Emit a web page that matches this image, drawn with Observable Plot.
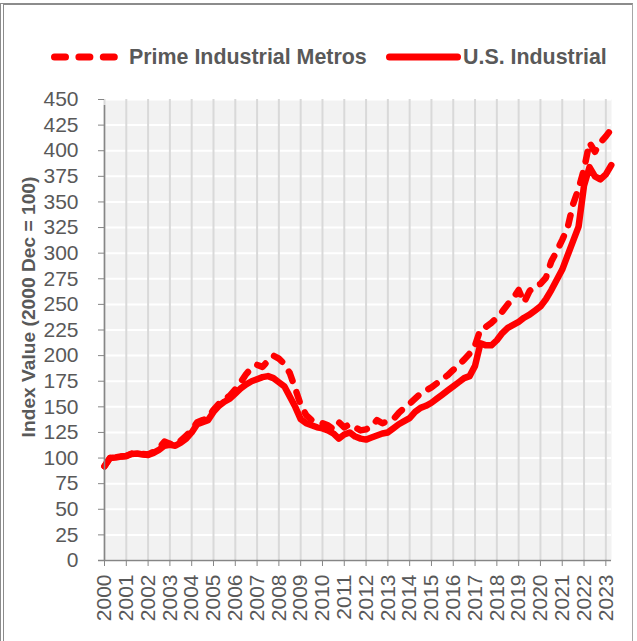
<!DOCTYPE html>
<html>
<head>
<meta charset="utf-8">
<script src="https://cdn.jsdelivr.net/npm/d3@7"></script>
<script src="https://cdn.jsdelivr.net/npm/@observablehq/plot@0.6"></script>
<style>
  body { margin: 0; background: #fff; font-family: "Liberation Sans", Arial, sans-serif; }
  #wrap { position: relative; width: 637px; height: 641px; overflow: hidden; background: #fff; }
  #frame { position: absolute; left: 0; top: 3px; width: 628px; height: 660px;
           border-top: 2px solid #8c8c8c; border-left: 4px double #8c8c8c; border-right: 1px solid #a6a6a6; pointer-events: none; }
  #legend { position: absolute; top: 0; left: 0; width: 637px; height: 90px; }
  .lab { position: absolute; top: 45px; font-weight: bold; font-size: 21.4px; color: #595959; line-height: 24px; white-space: nowrap; }
  .sw { position: absolute; top: 50px; }
  #chart { position: absolute; left: 0; top: 0; }
</style>
</head>
<body>
<div id="wrap">
  <div id="chart"></div>
  <div id="legend"></div>
  <div id="frame"></div>
</div>
<script>
// Series names
const seriesNames = ["Prime Industrial Metros", "U.S. Industrial"];
const yTitle = "Index Value (2000 Dec = 100)";

// Year tick labels
const yearTicks = [2000,2001,2002,2003,2004,2005,2006,2007,2008,2009,2010,2011,2012,2013,2014,2015,2016,2017,2018,2019,2020,2021,2022,2023];

// Y tick values
const valueTicks = [0,25,50,75,100,125,150,175,200,225,250,275,300,325,350,375,400,425,450];

// Quarterly index values, 2000 Q1 .. 2023 Q2
const primeIndustrial = [
  92, 100, 100.5, 101.5,
  102, 104.5, 105, 104,
  103.5, 106, 110, 116,
  114, 113, 117, 122,
  127, 135, 137, 139,
  147, 153, 157, 161,
  167, 174, 182, 188,
  191, 189, 195, 200,
  197, 192, 183, 168,
  152, 142, 137, 135,
  134, 132, 128, 135,
  130, 133, 130, 127,
  128, 131, 137, 134,
  136, 138, 144, 149,
  153, 158, 163, 166,
  169, 173, 177, 181,
  186, 191, 196, 202,
  210, 226, 228, 232,
  237, 243, 250, 256,
  264, 252, 263, 268,
  270, 276, 292, 302,
  313, 325, 348, 363,
  382, 408, 399, 408,
  414, 421
];

const usIndustrial = [
  92, 100, 100.5, 101.5,
  102, 104, 104.5, 103.5,
  103, 105, 108, 112,
  113, 112, 115, 119,
  125, 133, 135, 137,
  145, 151, 155, 158,
  163, 168, 172, 175,
  177, 179, 180, 178,
  174, 170, 160, 150,
  138, 134, 132, 130,
  129, 127, 124, 119,
  123, 125, 121, 119,
  118, 120, 122, 124,
  125, 129, 133, 136,
  139, 145, 149, 151,
  154, 158, 162, 166,
  170, 174, 178, 180,
  190, 212, 210, 210,
  215, 222, 227, 230,
  233, 237, 240, 244,
  248, 255, 264, 274,
  284, 298, 312, 326,
  366, 384, 375, 372,
  377, 386
];

// Quarter positions (decimal years) as the category axis
const quarterPos = usIndustrial.map((_, i) => 2000 + i / 4);

const data = quarterPos.map((x, i) => ({ x, prime: primeIndustrial[i], us: usIndustrial[i] }));

const axisGray = "#868686";
const textGray = "#595959";
const red = "#ff0000";

const chart = Plot.plot({
  width: 637,
  height: 641,
  marginTop: 99,
  marginBottom: 81,
  marginLeft: 104,
  marginRight: 26,
  style: { fontFamily: "'Liberation Sans', Arial, sans-serif", fontSize: "21px", color: textGray, background: "transparent" },
  x: { domain: [2000, 2023.26] },
  y: { domain: [0, 450] },
  marks: [
    Plot.frame({ fill: "#f2f2f2", stroke: null }),
    Plot.gridY(valueTicks, { stroke: "#ffffff", strokeOpacity: 1, strokeWidth: 2 }),
    Plot.gridX(yearTicks, { stroke: "#d9d9d9", strokeOpacity: 1, strokeWidth: 2 }),
    Plot.lineY(data, { x: "x", y: "prime", stroke: red, strokeWidth: 6.5, strokeDasharray: "10 12", strokeLinecap: "round", strokeLinejoin: "round" }),
    Plot.lineY(data, { x: "x", y: "us", stroke: red, strokeWidth: 6.5, strokeLinecap: "round", strokeLinejoin: "round" }),
    Plot.ruleX([2000], { y1: 0, y2: 450, stroke: axisGray, strokeWidth: 1.5, insetBottom: -6 }),
    Plot.ruleY([0], { stroke: axisGray, strokeWidth: 1.5, insetLeft: -6 }),
    Plot.axisY(valueTicks, { tickSize: 6, tickPadding: 20, stroke: axisGray, fill: textGray, tickFormat: d => String(d), label: null }),
    Plot.axisX(yearTicks, { tickSize: 6, tickPadding: 8, tickRotate: -90, stroke: axisGray, fill: textGray, tickFormat: d => String(d), label: null }),
    Plot.text([yTitle], { frameAnchor: "left", rotate: -90, dx: -76, dy: -23, fill: textGray, fontWeight: "bold", fontSize: 19.2, textAnchor: "middle" })
  ]
});
document.getElementById("chart").appendChild(chart);

// Legend
const legend = document.getElementById("legend");
function swatch(left, width, dashed) {
  const ns = "http://www.w3.org/2000/svg";
  const s = document.createElementNS(ns, "svg");
  s.setAttribute("width", width); s.setAttribute("height", 14);
  s.setAttribute("class", "sw");
  s.style.left = left + "px";
  const l = document.createElementNS(ns, "line");
  l.setAttribute("x1", 3.5); l.setAttribute("x2", width - 3.5);
  l.setAttribute("y1", 7); l.setAttribute("y2", 7);
  l.setAttribute("stroke", red); l.setAttribute("stroke-width", 7);
  l.setAttribute("stroke-linecap", "round");
  if (dashed) l.setAttribute("stroke-dasharray", "11 13.4");
  s.appendChild(l);
  legend.appendChild(s);
}
function label(left, text) {
  const d = document.createElement("div");
  d.className = "lab"; d.style.left = left + "px"; d.textContent = text;
  legend.appendChild(d);
}
swatch(51, 66.8, true);
label(129, seriesNames[0]);
swatch(386, 75, false);
label(463, seriesNames[1]);
</script>
</body>
</html>
